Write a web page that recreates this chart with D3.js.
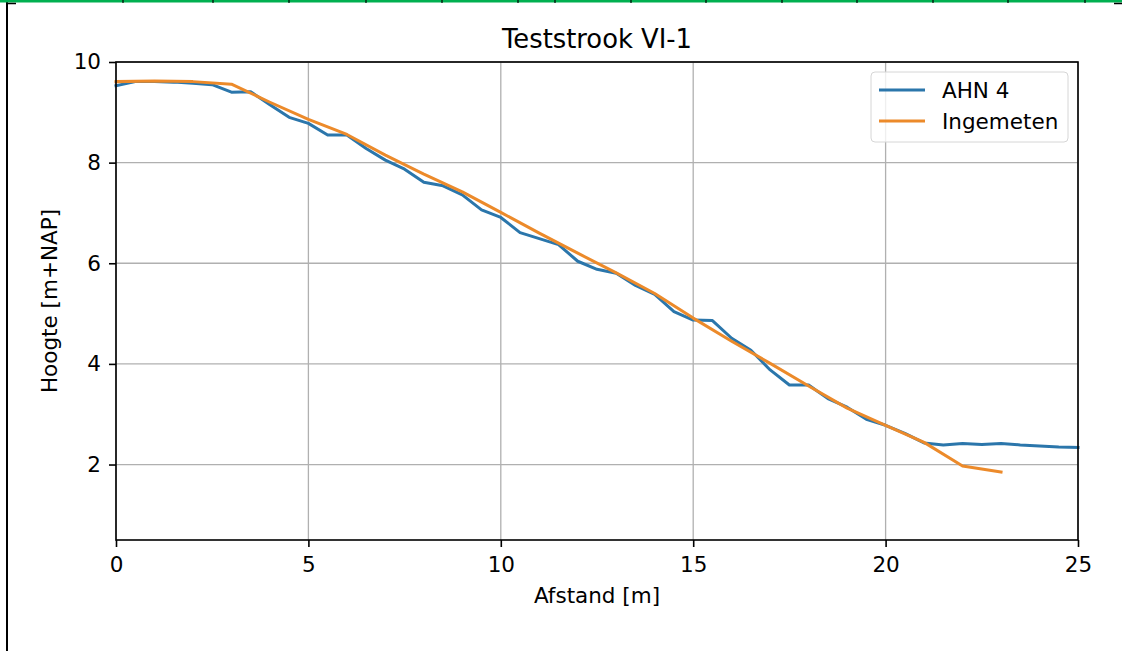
<!DOCTYPE html>
<html>
<head>
    <meta charset="utf-8" />
    <title>Teststrook VI-1</title>
    <style>
        body {
            margin: 0;
            background-color: white;
        }
        text {
            font-family: "DejaVu Sans", sans-serif;
            fill: #000;
        }
        .grid line {
            stroke: #b0b0b0;
            stroke-width: 1.3;
        }
        .axis line {
            stroke: #000;
            stroke-width: 1.6;
        }
    </style>
    <script src="https://cdnjs.cloudflare.com/ajax/libs/d3/7.8.5/d3.min.js"></script>
</head>
<body>
    <script>
        // AHN 4, every 0.5 m
        var ahnX = [0, 0.5, 1, 1.5, 2, 2.5, 3, 3.5, 4, 4.5, 5, 5.5, 6, 6.5, 7, 7.5, 8, 8.5, 9, 9.5,
                    10, 10.5, 11, 11.5, 12, 12.5, 13, 13.5, 14, 14.5, 15, 15.5, 16, 16.5, 17, 17.5,
                    18, 18.5, 19, 19.5, 20, 20.5, 21, 21.5, 22, 22.5, 23, 23.5, 24, 24.5, 25];
        var ahnY = [9.53, 9.61, 9.61, 9.60, 9.58, 9.55, 9.40, 9.41, 9.15, 8.90, 8.78, 8.55, 8.55, 8.28, 8.05, 7.87,
                    7.61, 7.54, 7.36, 7.06, 6.91, 6.61, 6.49, 6.37, 6.04, 5.88, 5.80, 5.56, 5.38, 5.04,
                    4.87, 4.86, 4.51, 4.27, 3.88, 3.58, 3.58, 3.31, 3.14, 2.90, 2.78, 2.62, 2.43, 2.39,
                    2.42, 2.40, 2.42, 2.39, 2.37, 2.35, 2.34];

        // Ingemeten, every 1 m
        var ingX = [0, 1, 2, 3, 4, 5, 6, 7, 8, 9, 10, 11, 12, 13, 14, 15, 16, 17, 18, 19, 20, 21, 22, 23];
        var ingY = [9.61, 9.62, 9.61, 9.56, 9.20, 8.86, 8.56, 8.15, 7.77, 7.42, 7.01, 6.60, 6.20, 5.81,
                    5.40, 4.91, 4.45, 4.01, 3.56, 3.12, 2.78, 2.44, 1.97, 1.85];

        var xTicks = [0, 5, 10, 15, 20, 25];
        var yTicks = [2, 4, 6, 8, 10];

        var seriesNames = ["AHN 4", "Ingemeten"];
        var colors = ["#2b76ab", "#ec8a2a"];

        var width = 1122,
            height = 651,
            margin = {left: 116, right: 44, top: 62, bottom: 111};

        var svg = d3.select("body").append("svg")
                    .attr("width", width)
                    .attr("height", height);

        // page frame (left rule, green top row)
        svg.append("line")
           .attr("x1", 7).attr("x2", 7).attr("y1", 2).attr("y2", height)
           .attr("stroke", "#000").attr("stroke-width", 2);
        svg.append("rect")
           .attr("x", 0).attr("y", 0).attr("width", width).attr("height", 2.5)
           .attr("fill", "#00b050");
        [123, 213, 289, 366, 442, 518, 555, 631, 706, 782, 857, 933, 1008, 1085].forEach(function(px) {
            svg.append("line")
               .attr("x1", px).attr("x2", px).attr("y1", 0).attr("y2", 3)
               .attr("stroke", "#000").attr("stroke-width", 1.2);
        });
        svg.append("line").attr("x1", 6).attr("x2", 16).attr("y1", 3.5).attr("y2", 3.5)
           .attr("stroke", "#000").attr("stroke-width", 1.5);
        svg.append("line").attr("x1", 1114).attr("x2", 1122).attr("y1", 3.5).attr("y2", 3.5)
           .attr("stroke", "#000").attr("stroke-width", 1.5);

        var x = d3.scaleLinear().domain([0, 25]).range([margin.left, width - margin.right]);
        var y = d3.scaleLinear().domain([0.5, 10]).range([height - margin.bottom, margin.top]);

        // grid
        var grid = svg.append("g").attr("class", "grid");
        grid.selectAll(".gx").data(xTicks).enter().append("line")
            .attr("x1", d => x(d)).attr("x2", d => x(d))
            .attr("y1", y(0.5)).attr("y2", y(10));
        grid.selectAll(".gy").data(yTicks).enter().append("line")
            .attr("x1", x(0)).attr("x2", x(25))
            .attr("y1", d => y(d)).attr("y2", d => y(d));

        // lines
        var line = d3.line().x(d => x(d[0])).y(d => y(d[1]));
        var ahn = ahnX.map((v, i) => [v, ahnY[i]]);
        var ing = ingX.map((v, i) => [v, ingY[i]]);

        svg.append("path").datum(ahn)
           .attr("d", line).attr("fill", "none")
           .attr("stroke", colors[0]).attr("stroke-width", 3)
           .attr("stroke-linejoin", "round").attr("stroke-linecap", "square");
        svg.append("path").datum(ing)
           .attr("d", line).attr("fill", "none")
           .attr("stroke", colors[1]).attr("stroke-width", 3)
           .attr("stroke-linejoin", "round").attr("stroke-linecap", "square");

        // frame of the axes
        svg.append("rect")
           .attr("x", x(0)).attr("y", y(10))
           .attr("width", x(25) - x(0)).attr("height", y(0.5) - y(10))
           .attr("fill", "none").attr("stroke", "#000").attr("stroke-width", 1.6);

        // axes
        svg.append("g").attr("class", "axis")
           .attr("transform", "translate(0," + y(0.5) + ")")
           .call(d3.axisBottom(x).tickValues(xTicks).tickSize(7).tickPadding(10).tickFormat(d3.format("d")))
           .call(g => g.select(".domain").remove());
        svg.append("g").attr("class", "axis")
           .attr("transform", "translate(" + x(0) + ",0)")
           .call(d3.axisLeft(y).tickValues(yTicks).tickSize(7).tickPadding(8).tickFormat(d3.format("d")))
           .call(g => g.select(".domain").remove());

        svg.selectAll(".axis text")
           .attr("fill", "#000")
           .style("font-family", "'DejaVu Sans', sans-serif")
           .style("font-size", "21.5px");

        // title and labels
        svg.append("text")
           .attr("x", (x(0) + x(25)) / 2).attr("y", 48)
           .attr("text-anchor", "middle")
           .style("font-size", "25.8px")
           .text("Teststrook VI-1");
        svg.append("text")
           .attr("x", (x(0) + x(25)) / 2).attr("y", 603)
           .attr("text-anchor", "middle")
           .style("font-size", "21.5px")
           .text("Afstand [m]");
        svg.append("text")
           .attr("transform", "translate(57," + ((y(0.5) + y(10)) / 2) + ") rotate(-90)")
           .attr("text-anchor", "middle")
           .style("font-size", "21.5px")
           .text("Hoogte [m+NAP]");

        // legend
        var legend = svg.append("g").attr("transform", "translate(871,72)");
        legend.append("rect")
              .attr("width", 197).attr("height", 70).attr("rx", 4)
              .attr("fill", "white").attr("fill-opacity", 0.8)
              .attr("stroke", "#d6d6d6").attr("stroke-width", 1);
        seriesNames.forEach(function(name, i) {
            var ly = 18 + i * 31;
            legend.append("line")
                  .attr("x1", 8).attr("x2", 54).attr("y1", ly).attr("y2", ly)
                  .attr("stroke", colors[i]).attr("stroke-width", 3);
            legend.append("text")
                  .attr("x", 71).attr("y", ly + 8)
                  .style("font-size", "21.5px")
                  .text(name);
        });
    </script>
</body>
</html>
